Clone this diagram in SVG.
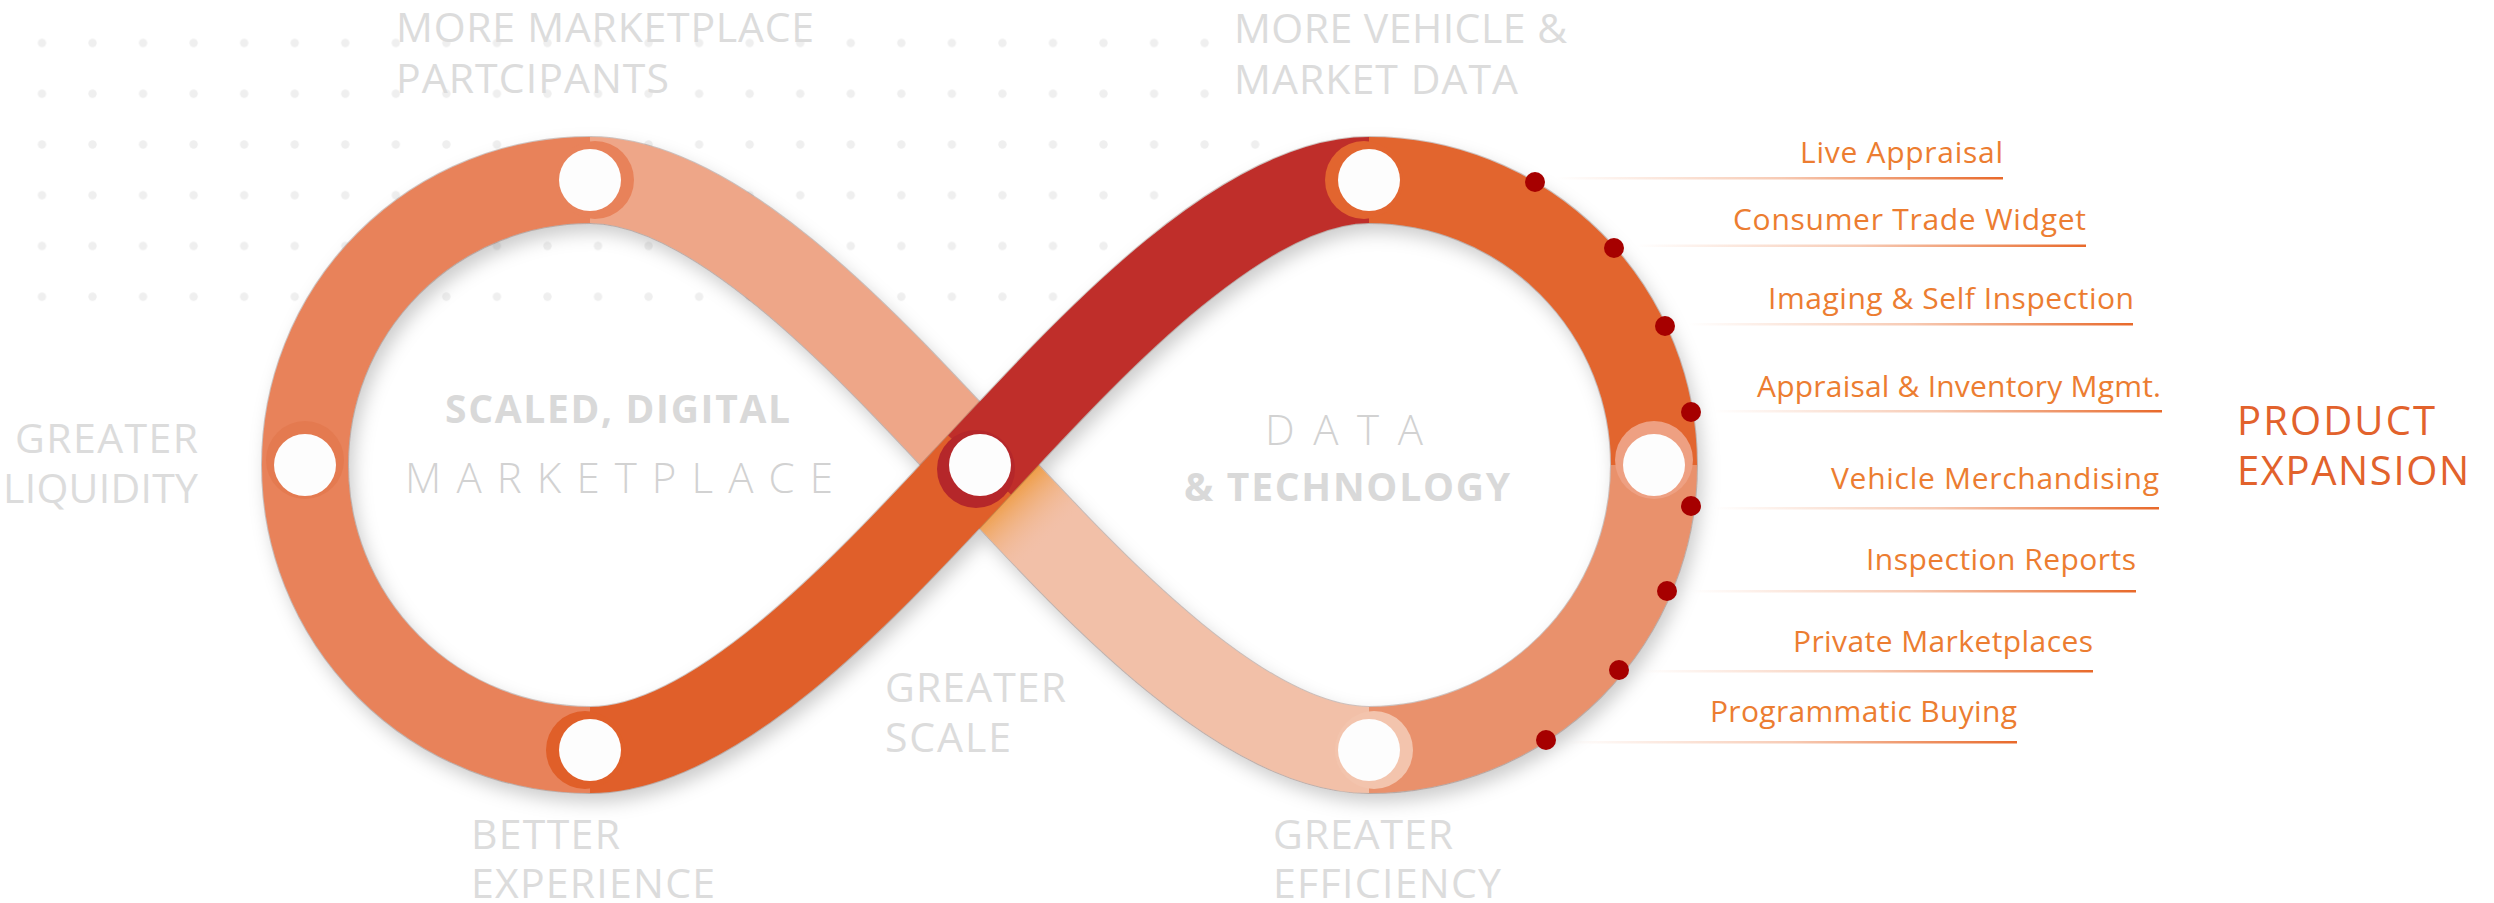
<svg xmlns="http://www.w3.org/2000/svg" width="2494" height="903" viewBox="0 0 2494 903">
  <defs>
    <style>
      .cap { font-family: "Open Sans", "Liberation Sans", sans-serif; font-size: 41px; fill: #dcdcdc; }
      .hub-bold { font-family: "Open Sans", "Liberation Sans", sans-serif; font-weight: 700; font-size: 39px; fill: #d9d9d9; }
      .hub-thin { font-family: "Open Sans", "Liberation Sans", sans-serif; font-weight: 300; font-size: 42px; fill: #d2d2d2; }
      .item { font-family: "Open Sans", "Liberation Sans", sans-serif; font-size: 30px; fill: #ec7d31; text-anchor: end; }
      .head { font-family: "Open Sans", "Liberation Sans", sans-serif; font-size: 40px; fill: #e2622c; }
      .seg { fill: none; stroke-width: 86; stroke-linecap: butt; }
      .edge { fill: none; stroke: #5a3228; stroke-opacity: 0.28; stroke-width: 88; stroke-linecap: butt; }
      .rule { fill: url(#rule); }
      .pin { fill: #a60000; }
      .hole { fill: #fdfdfd; }
    </style>
    <pattern id="dots" patternUnits="userSpaceOnUse" x="16.7" y="17.6" width="50.55" height="50.75">
      <circle cx="25.275" cy="25.375" r="4.2" fill="#efefef"/>
    </pattern>
    <linearGradient id="rule" x1="0" y1="0" x2="1" y2="0">
      <stop offset="0" stop-color="#e8692a" stop-opacity="0"/>
      <stop offset="0.5" stop-color="#e8692a" stop-opacity="0.35"/>
      <stop offset="1" stop-color="#e8692a" stop-opacity="1"/>
    </linearGradient>
    <linearGradient id="glow" gradientUnits="userSpaceOnUse" x1="1006" y1="492" x2="1050" y2="539">
      <stop offset="0" stop-color="#ee9838" stop-opacity="0.95"/>
      <stop offset="1" stop-color="#f2c0a8" stop-opacity="0"/>
    </linearGradient>
    <filter id="shadow" x="-10%" y="-15%" width="120%" height="135%">
      <feGaussianBlur in="SourceAlpha" stdDeviation="9"/>
      <feOffset dx="5" dy="9" result="blur"/>
      <feFlood flood-color="#000" flood-opacity="0.2"/>
      <feComposite in2="blur" operator="in"/>
      <feMerge>
        <feMergeNode/>
        <feMergeNode in="SourceGraphic"/>
      </feMerge>
    </filter>
  </defs>

  <rect width="2494" height="903" fill="#ffffff"/>

  <!-- dotted backdrop, upper left -->
  <g id="dot-grid">
    <rect x="30" y="33" width="1190" height="20" fill="url(#dots)"/>
    <rect x="30" y="84" width="1190" height="20" fill="url(#dots)"/>
    <rect x="30" y="134" width="1240" height="21" fill="url(#dots)"/>
    <rect x="30" y="185" width="1140" height="21" fill="url(#dots)"/>
    <rect x="30" y="236" width="1090" height="21" fill="url(#dots)"/>
    <rect x="30" y="286" width="1040" height="21" fill="url(#dots)"/>
  </g>

  <!-- outer captions -->
  <g id="captions">
    <text class="cap" x="396" y="42" textLength="418">MORE MARKETPLACE</text>
    <text class="cap" x="396" y="93" textLength="273">PARTCIPANTS</text>
    <text class="cap" x="1234" y="43" textLength="333">MORE VEHICLE &amp;</text>
    <text class="cap" x="1234" y="94" textLength="284">MARKET DATA</text>
    <text class="cap" x="15" y="453" textLength="183">GREATER</text>
    <text class="cap" x="3" y="503" textLength="195">LIQUIDITY</text>
    <text class="cap" x="471" y="849" textLength="149">BETTER</text>
    <text class="cap" x="471" y="898" textLength="244">EXPERIENCE</text>
    <text class="cap" x="885" y="702" textLength="181">GREATER</text>
    <text class="cap" x="885" y="752" textLength="126">SCALE</text>
    <text class="cap" x="1273" y="849" textLength="180">GREATER</text>
    <text class="cap" x="1273" y="898" textLength="228">EFFICIENCY</text>
  </g>

  <!-- hub titles inside the two loops -->
  <g id="hub-left">
    <text class="hub-bold" x="445" y="423" textLength="345">SCALED, DIGITAL</text>
    <text class="hub-thin" x="405" y="493" textLength="428" lengthAdjust="spacing">MARKETPLACE</text>
  </g>
  <g id="hub-right">
    <text class="hub-thin" x="1265" y="445" textLength="158" lengthAdjust="spacing">DATA</text>
    <text class="hub-bold" x="1184" y="501" textLength="326">&amp; TECHNOLOGY</text>
  </g>

  <!-- the infinity band, one stroke per stretch between nodes -->
  <g id="connectors" filter="url(#shadow)">
    <!-- stretches passing under the crossing -->
    <g id="band-under">
      <path class="edge" d="M1369 180 A285 285 0 0 1 1654 465 A285 285 0 0 1 1369 750 C1239 750 1082 574.5 979.5 465 C877 355.5 720 180 590 180 A285 285 0 0 0 305 465 A285 285 0 0 0 590 750"/>
      <path class="seg" stroke="#e2652f" d="M1369 180 A285 285 0 0 1 1654 465"/>
      <path class="seg" stroke="#e9916c" d="M1654 465 A285 285 0 0 1 1369 750"/>
      <path class="seg" stroke="#f2c0a8" d="M1369 750 C1239 750 1082 574.5 979.5 465"/>
      <path class="seg" stroke="url(#glow)" d="M1369 750 C1239 750 1082 574.5 979.5 465"/>
      <path class="seg" stroke="#eea688" d="M979.5 465 C877 355.5 720 180 590 180"/>
      <path class="seg" stroke="#e8825a" d="M590 180 A285 285 0 0 0 305 465"/>
      <path class="seg" stroke="#e8825a" d="M305 465 A285 285 0 0 0 590 750"/>
    </g>
    <!-- stretches passing over the crossing -->
    <g id="band-over">
      <path class="edge" d="M590 750 C720 750 877 574.5 979.5 465 C1082 355.5 1239 180 1369 180"/>
      <path class="seg" stroke="#e05f29" d="M590 750 C720 750 877 574.5 979.5 465"/>
      <path class="seg" stroke="#bf2e2b" d="M979.5 465 C1082 355.5 1239 180 1369 180"/>
    </g>
  </g>

  <!-- ring nodes on the band -->
  <g id="node-top-left">
    <circle cx="595" cy="180" r="39" fill="#e8825a"/>
    <circle class="hole" cx="590" cy="180" r="31"/>
  </g>
  <g id="node-left">
    <circle cx="305" cy="460" r="39" fill="#e47a50"/>
    <circle class="hole" cx="305" cy="465" r="31"/>
  </g>
  <g id="node-bottom-left">
    <circle cx="585" cy="750" r="39" fill="#e05f29"/>
    <circle class="hole" cx="590" cy="750" r="31"/>
  </g>
  <g id="node-center">
    <circle cx="976" cy="469" r="39" fill="#b5272a"/>
    <circle class="hole" cx="980" cy="465" r="31"/>
  </g>
  <g id="node-top-right">
    <circle cx="1364" cy="180" r="39" fill="#e2652f"/>
    <circle class="hole" cx="1369" cy="180" r="31"/>
  </g>
  <g id="node-right">
    <circle cx="1654" cy="460" r="39" fill="#eea082"/>
    <circle class="hole" cx="1654" cy="465" r="31"/>
  </g>
  <g id="node-bottom-right">
    <circle cx="1374" cy="750" r="39" fill="#f3c4ad"/>
    <circle class="hole" cx="1369" cy="750" r="31"/>
  </g>

  <!-- product expansion list: pins on the rim, fading rules, labels -->
  <g id="product-rules">
    <rect class="rule" x="1556" y="177" width="447" height="2.5"/>
    <rect class="rule" x="1636" y="244.5" width="450" height="2.5"/>
    <rect class="rule" x="1688" y="323" width="445" height="2.5"/>
    <rect class="rule" x="1713" y="410" width="449" height="2.5"/>
    <rect class="rule" x="1713" y="507" width="446" height="2.5"/>
    <rect class="rule" x="1690" y="590" width="446" height="2.5"/>
    <rect class="rule" x="1641" y="670" width="452" height="2.5"/>
    <rect class="rule" x="1568" y="741" width="449" height="2.5"/>
  </g>
  <g id="product-pins">
    <circle class="pin" cx="1535" cy="182" r="10"/>
    <circle class="pin" cx="1614" cy="248" r="10"/>
    <circle class="pin" cx="1665" cy="326" r="10"/>
    <circle class="pin" cx="1691" cy="412" r="10"/>
    <circle class="pin" cx="1691" cy="506" r="10"/>
    <circle class="pin" cx="1667" cy="591" r="10"/>
    <circle class="pin" cx="1619" cy="670" r="10"/>
    <circle class="pin" cx="1546" cy="740" r="10"/>
  </g>
  <g id="item-live-appraisal"><text class="item" x="2003" y="163" textLength="203">Live Appraisal</text></g>
  <g id="item-consumer-trade"><text class="item" x="2086" y="230" textLength="353">Consumer Trade Widget</text></g>
  <g id="item-imaging"><text class="item" x="2134" y="309" textLength="366">Imaging &amp; Self Inspection</text></g>
  <g id="item-appraisal-inventory"><text class="item" x="2161" y="397" textLength="404">Appraisal &amp; Inventory Mgmt.</text></g>
  <g id="item-merchandising"><text class="item" x="2159" y="489" textLength="328">Vehicle Merchandising</text></g>
  <g id="item-inspection-reports"><text class="item" x="2136" y="570" textLength="270">Inspection Reports</text></g>
  <g id="item-private-marketplaces"><text class="item" x="2093" y="652" textLength="300">Private Marketplaces</text></g>
  <g id="item-programmatic"><text class="item" x="2017" y="722" textLength="307">Programmatic Buying</text></g>

  <g id="product-expansion">
    <text class="head" x="2237" y="435" textLength="198">PRODUCT</text>
    <text class="head" x="2237" y="485" textLength="232">EXPANSION</text>
  </g>
</svg>
